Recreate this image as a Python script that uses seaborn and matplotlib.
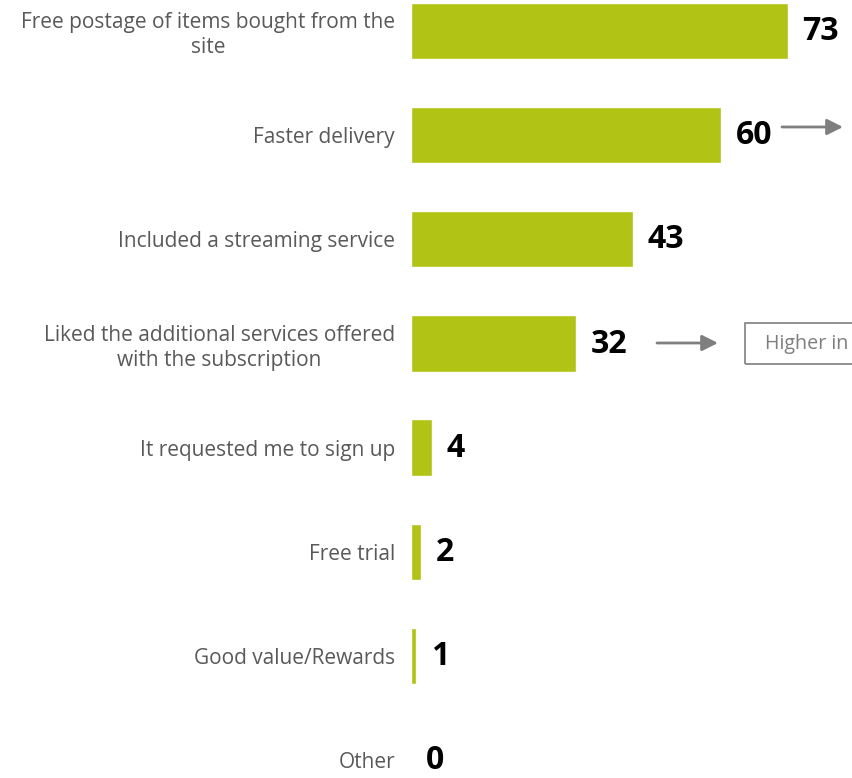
import matplotlib
matplotlib.use("Agg")
import matplotlib.pyplot as plt
from matplotlib.patches import Rectangle, FancyArrowPatch
import seaborn as sns
import pandas as pd

categories = [
    "Free postage of items bought from the\nsite",
    "Faster delivery",
    "Included a streaming service",
    "Liked the additional services offered\nwith the subscription",
    "It requested me to sign up",
    "Free trial",
    "Good value/Rewards",
    "Other",
]
values = [73, 60, 43, 32, 4, 2, 1, 0]

BAR_COLOR = "#B1C314"
LABEL_COLOR = "#595959"
NOTE_COLOR = "#7F7F7F"

sns.set_theme(style="white")
plt.rcParams["font.family"] = ["Open Sans", "DejaVu Sans"]

W, H, DPI = 853, 778, 100
fig = plt.figure(figsize=(W / DPI, H / DPI), dpi=DPI)

# axes spans from bar baseline to the right edge, full height
ax_left = 411 / W
ax = fig.add_axes([ax_left, 0, 1 - ax_left, 1])

df = pd.DataFrame({"category": categories, "value": values})
sns.barplot(data=df, x="value", y="category", orient="h", color=BAR_COLOR,
            saturation=1, width=0.54, ax=ax)

px_per_unit = 377 / 73
ax.set_xlim(0, (W - 411) / px_per_unit)
step = 104.4
ax.set_ylim(7 + (H - 760) / step, -31 / step)

for s in ax.spines.values():
    s.set_visible(False)
ax.set_xticks([])
ax.set_xlabel("")
ax.set_ylabel("")
ax.tick_params(axis="y", length=0, pad=11.5)
for lbl in ax.get_yticklabels():
    lbl.set_fontsize(15)
    lbl.set_color(LABEL_COLOR)
    lbl.set_multialignment("center")
    lbl.set_linespacing(1.25)

for i, v in enumerate(values):
    ax.annotate(str(v), xy=(v, i), xytext=(10.5, -0.5), textcoords="offset points",
                ha="left", va="center", fontsize=23, fontweight="bold",
                color="black")

# callout arrows and note box (figure pixel coordinates)
def fx(x):
    return x / W

def fy(y):
    return 1 - y / H

for (x0, x1, y) in [(782, 843, 127), (657, 718, 343)]:
    arr = FancyArrowPatch((fx(x0), fy(y)), (fx(x1), fy(y)),
                          transform=fig.transFigure, arrowstyle="-|>",
                          mutation_scale=24, color=NOTE_COLOR, lw=2,
                          shrinkA=0, shrinkB=0)
    fig.patches.append(arr)

box = Rectangle((fx(745), fy(364)), fx(200), (364 - 323) / H,
                transform=fig.transFigure, fill=False,
                edgecolor=NOTE_COLOR, lw=1.2)
fig.patches.append(box)
fig.text(fx(765), fy(343.5), "Higher in", ha="left", va="center",
         fontsize=14.2, color=NOTE_COLOR)

fig.savefig("out.png", dpi=DPI)
